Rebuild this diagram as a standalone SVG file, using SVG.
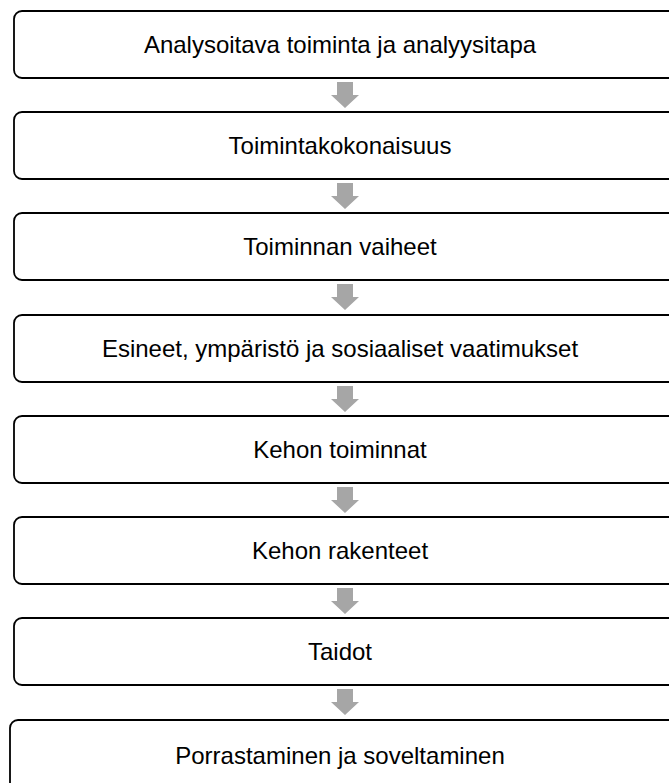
<svg xmlns="http://www.w3.org/2000/svg" width="669" height="783" viewBox="0 0 669 783">
<style>
.box{fill:#fff;stroke:#000;stroke-width:1.8}
.lbl{font-family:"Liberation Sans",Arial,sans-serif;font-size:24px;fill:#000;text-anchor:middle}
.arr{fill:#a6a6a6}
</style>
<defs>
<path id="ar" d="M-8,0 H8 V13 H14 L0,26 L-14,13 H-8 Z"/>
</defs>
<rect width="669" height="783" fill="#fff"/>
<g id="connectors">
<use href="#ar" class="arr" x="345" y="82"/>
<use href="#ar" class="arr" x="345" y="183"/>
<use href="#ar" class="arr" x="345" y="284"/>
<use href="#ar" class="arr" x="345" y="386"/>
<use href="#ar" class="arr" x="345" y="487"/>
<use href="#ar" class="arr" x="345" y="588"/>
<use href="#ar" class="arr" x="345" y="689"/>
</g>
<g id="n1"><rect class="box" x="14" y="11" width="680" height="67" rx="8"/><text class="lbl" x="340" y="53">Analysoitava toiminta ja analyysitapa</text></g>
<g id="n2"><rect class="box" x="14" y="112" width="680" height="67" rx="8"/><text class="lbl" x="340" y="154">Toimintakokonaisuus</text></g>
<g id="n3"><rect class="box" x="14" y="213" width="680" height="67" rx="8"/><text class="lbl" x="340" y="255">Toiminnan vaiheet</text></g>
<g id="n4"><rect class="box" x="14" y="315" width="680" height="67" rx="8"/><text class="lbl" x="340" y="357">Esineet, ympäristö ja sosiaaliset vaatimukset</text></g>
<g id="n5"><rect class="box" x="14" y="416" width="680" height="67" rx="8"/><text class="lbl" x="340" y="458">Kehon toiminnat</text></g>
<g id="n6"><rect class="box" x="14" y="517" width="680" height="67" rx="8"/><text class="lbl" x="340" y="559">Kehon rakenteet</text></g>
<g id="n7"><rect class="box" x="14" y="618" width="680" height="67" rx="8"/><text class="lbl" x="340" y="660">Taidot</text></g>
<g id="n8"><rect class="box" x="10" y="720" width="690" height="90" rx="8"/><text class="lbl" x="340" y="764">Porrastaminen ja soveltaminen</text></g>
</svg>
